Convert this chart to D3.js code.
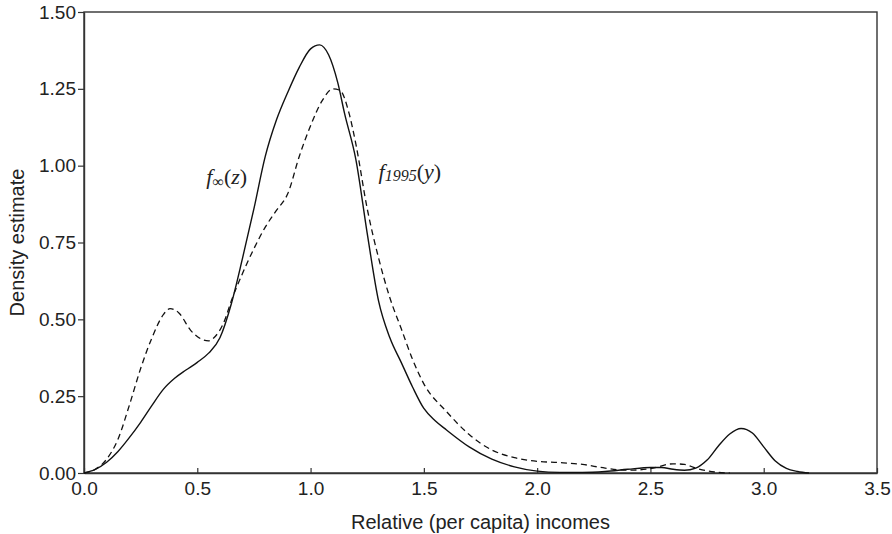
<!DOCTYPE html>
<html>
<head>
<meta charset="utf-8">
<script src="https://cdn.jsdelivr.net/npm/d3@7"></script>
<style>
  body { margin: 0; background: #fff; }
  svg text { font-family: "Liberation Sans", Arial, sans-serif; fill: #222; }
</style>
</head>
<body>
<div id="chart"></div>
<script>
// relative income grid points and density estimates
var xErgodic = [0, 0.05, 0.1, 0.15, 0.2, 0.25, 0.3, 0.35, 0.4, 0.45, 0.5, 0.55, 0.6, 0.65, 0.7, 0.75, 0.8, 0.85, 0.9, 0.95, 1.0, 1.04, 1.08, 1.12, 1.15, 1.2, 1.25, 1.3, 1.35, 1.4, 1.45, 1.5, 1.55, 1.6, 1.7, 1.8, 1.9, 2.0, 2.1, 2.2, 2.3, 2.4, 2.5, 2.55, 2.6, 2.65, 2.7, 2.75, 2.8, 2.85, 2.9, 2.95, 3.0, 3.05, 3.1, 3.15, 3.2];
var fErgodic = [0, 0.012, 0.035, 0.07, 0.115, 0.165, 0.22, 0.272, 0.308, 0.335, 0.36, 0.39, 0.44, 0.55, 0.70, 0.86, 1.03, 1.15, 1.24, 1.32, 1.38, 1.393, 1.36, 1.27, 1.17, 1.02, 0.78, 0.56, 0.44, 0.36, 0.28, 0.21, 0.17, 0.14, 0.085, 0.045, 0.02, 0.006, 0.002, 0.002, 0.005, 0.012, 0.018, 0.018, 0.012, 0.009, 0.016, 0.042, 0.088, 0.127, 0.145, 0.13, 0.085, 0.04, 0.015, 0.005, 0];

var x1995 = [0, 0.05, 0.1, 0.15, 0.2, 0.25, 0.3, 0.35, 0.38, 0.42, 0.47, 0.52, 0.55, 0.58, 0.62, 0.65, 0.7, 0.75, 0.8, 0.85, 0.9, 0.95, 1.0, 1.05, 1.1, 1.13, 1.17, 1.2, 1.25, 1.3, 1.35, 1.4, 1.45, 1.5, 1.6, 1.7, 1.8, 1.9, 2.0, 2.1, 2.2, 2.3, 2.4, 2.5, 2.6, 2.65, 2.7, 2.75, 2.8, 2.85];
var f1995 = [0, 0.012, 0.045, 0.11, 0.22, 0.34, 0.44, 0.515, 0.535, 0.52, 0.465, 0.435, 0.43, 0.445, 0.495, 0.56, 0.65, 0.73, 0.80, 0.855, 0.91, 1.03, 1.13, 1.21, 1.25, 1.245, 1.17, 1.07, 0.86, 0.70, 0.57, 0.47, 0.37, 0.29, 0.2, 0.125, 0.075, 0.05, 0.038, 0.034, 0.028, 0.016, 0.009, 0.014, 0.03, 0.028, 0.016, 0.007, 0.002, 0];

var xTicks = [0, 0.5, 1.0, 1.5, 2.0, 2.5, 3.0, 3.5];
var yTicks = [0, 0.25, 0.5, 0.75, 1.0, 1.25, 1.5];

var margin = {top: 12, right: 15, bottom: 61, left: 84},
    width = 892 - margin.left - margin.right,
    height = 534 - margin.top - margin.bottom;

var svg = d3.select("#chart")
  .append("svg")
    .attr("width", 892)
    .attr("height", 534)
  .append("g")
    .attr("transform", "translate(" + margin.left + "," + margin.top + ")");

var x = d3.scaleLinear().domain([0, 3.5]).range([0, width]);
var y = d3.scaleLinear().domain([0, 1.5]).range([height, 0]);

// frame
svg.append("rect")
  .attr("width", width)
  .attr("height", height)
  .attr("fill", "none")
  .attr("stroke", "#333")
  .attr("stroke-width", 1.4);

// x axis, ticks point inward
var xAxis = svg.append("g")
  .attr("transform", "translate(0," + height + ")")
  .call(d3.axisBottom(x).tickValues(xTicks).tickFormat(d3.format(".1f"))
    .tickSizeInner(-5).tickSizeOuter(0).tickPadding(9));
xAxis.select(".domain").attr("stroke", "#333").attr("stroke-width", 1.4);
xAxis.selectAll(".tick line").attr("stroke", "#333").attr("stroke-width", 1.2);
xAxis.selectAll(".tick text").style("font-size", "19px").attr("fill", "#222");

// y axis, ticks point outward
var yAxis = svg.append("g")
  .call(d3.axisLeft(y).tickValues(yTicks).tickFormat(d3.format(".2f"))
    .tickSizeInner(6).tickSizeOuter(0).tickPadding(2));
yAxis.select(".domain").attr("stroke", "#333").attr("stroke-width", 1.4);
yAxis.selectAll(".tick line").attr("stroke", "#333").attr("stroke-width", 1.2);
yAxis.selectAll(".tick text").style("font-size", "19px").attr("fill", "#222");

// axis titles
svg.append("text")
  .attr("x", width / 2)
  .attr("y", height + 56)
  .attr("text-anchor", "middle")
  .style("font-size", "20px")
  .text("Relative (per capita) incomes");

svg.append("text")
  .attr("transform", "rotate(-90)")
  .attr("x", -height / 2)
  .attr("y", -67)
  .attr("dy", "0.35em")
  .attr("text-anchor", "middle")
  .style("font-size", "20px")
  .text("Density estimate");

var line = d3.line()
  .x(d => x(d[0]))
  .y(d => y(d[1]))
  .curve(d3.curveMonotoneX);

var ergodic = xErgodic.map((v, i) => [v, fErgodic[i]]);
var year1995 = x1995.map((v, i) => [v, f1995[i]]);

svg.append("path")
  .datum(ergodic)
  .attr("fill", "none")
  .attr("stroke", "#111")
  .attr("stroke-width", 1.4)
  .attr("d", line);

svg.append("path")
  .datum(year1995)
  .attr("fill", "none")
  .attr("stroke", "#111")
  .attr("stroke-width", 1.3)
  .attr("stroke-dasharray", "6,4")
  .attr("d", line);

// curve labels
var lab1 = svg.append("text")
  .attr("x", x(0.54))
  .attr("y", y(0.94))
  .style("font-family", "'Liberation Serif', 'Times New Roman', serif")
  .style("font-size", "22px");
lab1.append("tspan").style("font-style", "italic").text("f");
lab1.append("tspan").style("font-size", "16px").attr("dy", 3).text("\u221E");
lab1.append("tspan").attr("dy", -3).text("(");
lab1.append("tspan").style("font-style", "italic").text("z");
lab1.append("tspan").text(")");

var lab2 = svg.append("text")
  .attr("x", x(1.30))
  .attr("y", y(0.955))
  .style("font-family", "'Liberation Serif', 'Times New Roman', serif")
  .style("font-size", "22px");
lab2.append("tspan").style("font-style", "italic").text("f");
lab2.append("tspan").style("font-style", "italic").style("font-size", "16px").attr("dy", 2).text("1995");
lab2.append("tspan").attr("dy", -2).text("(");
lab2.append("tspan").style("font-style", "italic").text("y");
lab2.append("tspan").text(")");
</script>
</body>
</html>
